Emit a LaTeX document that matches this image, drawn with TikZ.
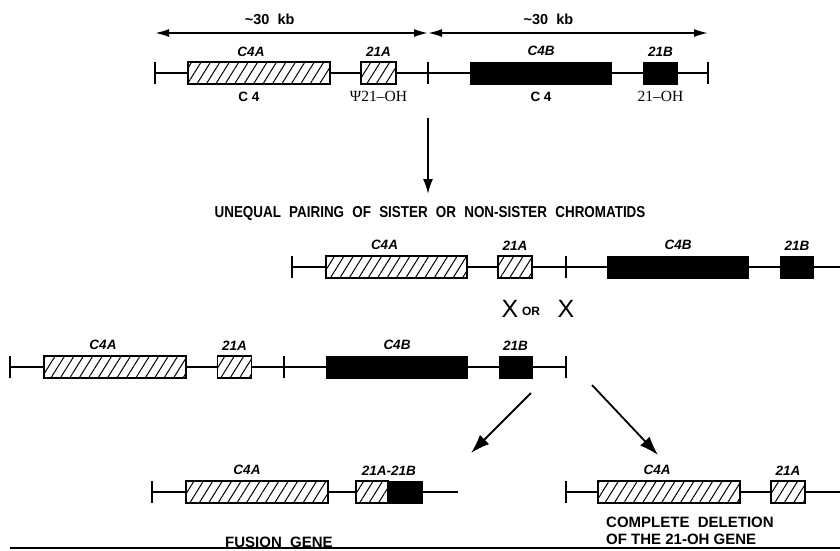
\documentclass[tikz,border=0pt]{standalone}
\usepackage{fontspec}
\setmainfont{Liberation Serif}
\setsansfont{Liberation Sans}
\newfontfamily\titlefont[FakeStretch=0.85,WordSpace=2.2]{Liberation Sans}
\usetikzlibrary{arrows.meta,patterns.meta,positioning}
\newcommand{\kb}{\textasciitilde30\ \ kb}

\begin{document}
\begin{tikzpicture}[x=1pt,y={(0pt,-1pt)},
  chrom/.style={line width=1.4pt},
  hatchgene/.style={draw,line width=1.6pt,inner sep=0pt,minimum height=22pt,
    preaction={fill=white},pattern={Lines[angle=58,distance=8pt,line width=1pt]}},
  solidgene/.style={fill=black,inner sep=0pt,minimum height=23pt},
  genename/.style={font=\sffamily\bfseries\itshape\fontsize{13.5}{13.5}\selectfont,inner sep=0pt},
  protname/.style={font=\sffamily\bfseries\fontsize{13.5}{13.5}\selectfont,inner sep=0pt},
  serifname/.style={font=\fontsize{15.5}{15.5}\selectfont,inner sep=0pt},
  captext/.style={font=\sffamily\bfseries\fontsize{15}{17}\selectfont,inner sep=0pt},
  kbarrow/.style={line width=1.8pt,{Latex[length=14pt,width=8pt]}-{Latex[length=14pt,width=8pt]}},
  arrowline/.style={line width=1.8pt,-{Latex[length=15pt,width=10pt]}}]
  \useasboundingbox (0,0) rectangle (840,550);

  % ~30 kb scale
  \coordinate (k0) at (155,33);
  \coordinate (km) at (428,33);
  \coordinate (k1) at (708,33);
  \draw[kbarrow] (k0) -- node[pos=0.42,above=7pt,captext,font=\sffamily\bfseries\fontsize{14.5}{14.5}\selectfont] {\kb} (km);
  \draw[kbarrow] (km) -- node[pos=0.43,above=7pt,captext,font=\sffamily\bfseries\fontsize{14.5}{14.5}\selectfont] {\kb} (k1);

  % top chromosome
  \coordinate (a0) at (155,73);
  \coordinate (am) at (428,73);
  \coordinate (a1) at (708,73);
  \draw[chrom] (a0) -- (a1);
  \foreach \c in {a0,am,a1} \draw[chrom] ([yshift=-11pt]\c) -- ([yshift=11pt]\c);
  \node[hatchgene,minimum width=142pt] (aC4A) at (259,73) {};
  \node[hatchgene,minimum width=35pt] (a21A) at (378.5,73) {};
  \node[solidgene,minimum width=142pt] (aC4B) at (541,73) {};
  \node[solidgene,minimum width=35pt] (a21B) at (660.5,73) {};
  \node[genename,above=5pt of aC4A,xshift=-8pt] {C4A};
  \node[genename,above=5pt of a21A] {21A};
  \node[genename,above=5pt of aC4B] {C4B};
  \node[genename,above=5pt of a21B] {21B};
  \node[protname,below=7pt of aC4A,xshift=-10pt] {C 4};
  \node[serifname,below=6pt of a21A] {Ψ21–OH};
  \node[protname,below=7pt of aC4B] {C 4};
  \node[serifname,below=6pt of a21B] {21–OH};

  \coordinate (v0) at (428,118);
  \coordinate (v1) at (428,194);
  \draw[arrowline] (v0) -- (v1);

  \node[captext,font=\titlefont\bfseries\fontsize{15.8}{15.8}\selectfont] (pairing) at (430,214)
    {UNEQUAL PAIRING OF SISTER OR NON-SISTER CHROMATIDS};

  % shifted chromosome
  \coordinate (b0) at (292,267);
  \coordinate (bm) at (566,267);
  \coordinate (b1) at (840,267);
  \draw[chrom] (b0) -- (b1);
  \foreach \c in {b0,bm} \draw[chrom] ([yshift=-11pt]\c) -- ([yshift=11pt]\c);
  \node[hatchgene,minimum width=141pt] (bC4A) at (396.5,267) {};
  \node[hatchgene,minimum width=34pt] (b21A) at (515,267) {};
  \node[solidgene,minimum width=142pt] (bC4B) at (678,267) {};
  \node[solidgene,minimum width=34pt] (b21B) at (797,267) {};
  \node[genename,above=5pt of bC4A,xshift=-12pt] {C4A};
  \node[genename,above=5pt of b21A] {21A};
  \node[genename,above=5pt of bC4B] {C4B};
  \node[genename,above=5pt of b21B] {21B};

  % crossover
  \node[font=\sffamily\fontsize{25}{25}\selectfont,inner sep=0pt] (x1) at (510,309) {X};
  \node[font=\sffamily\bfseries\fontsize{12}{12}\selectfont,inner sep=0pt] (or) at (531,311) {OR};
  \node[font=\sffamily\fontsize{25}{25}\selectfont,inner sep=0pt] (x2) at (566,309) {X};

  % lower chromosome
  \coordinate (c0) at (10,367);
  \coordinate (cm) at (284,367);
  \coordinate (c1) at (566,367);
  \draw[chrom] (c0) -- (c1);
  \foreach \c in {c0,cm,c1} \draw[chrom] ([yshift=-11pt]\c) -- ([yshift=11pt]\c);
  \node[hatchgene,minimum width=142pt] (cC4A) at (115,367) {};
  \node[hatchgene,minimum width=34pt] (c21A) at (234.5,367) {};
  \node[solidgene,minimum width=142pt] (cC4B) at (397,367) {};
  \node[solidgene,minimum width=34pt] (c21B) at (515.5,367) {};
  \node[genename,above=5pt of cC4A,xshift=-12pt] {C4A};
  \node[genename,above=5pt of c21A] {21A};
  \node[genename,above=5pt of cC4B] {C4B};
  \node[genename,above=5pt of c21B] {21B};

  \coordinate (f0) at (531,393);
  \coordinate (f1) at (471,453);
  \coordinate (d0) at (592,385);
  \coordinate (d1) at (658,455);
  \draw[arrowline,-{Latex[length=19pt,width=13pt]}] (f0) -- (f1);
  \draw[arrowline,-{Latex[length=19pt,width=13pt]}] (d0) -- (d1);

  % fusion gene
  \coordinate (e0) at (152,492);
  \coordinate (e1) at (458,492);
  \draw[chrom] (e0) -- (e1);
  \draw[chrom] ([yshift=-11pt]e0) -- ([yshift=11pt]e0);
  \node[hatchgene,minimum width=142pt] (eC4A) at (257,492) {};
  \node[solidgene,minimum width=34pt] (e21B) at (406,492) {};
  \node[hatchgene,minimum width=32pt,anchor=east] (e21A) at (e21B.west) {};
  \node[genename,above=5pt of eC4A,xshift=-10pt] {C4A};
  \node[genename,above=5pt of e21A.north east] {21A-21B};
  \node[captext,anchor=west] (fusion) at (225,542) {FUSION\ \ GENE};

  % deletion
  \coordinate (g0) at (566,492);
  \coordinate (g1) at (840,492);
  \draw[chrom] (g0) -- (g1);
  \draw[chrom] ([yshift=-11pt]g0) -- ([yshift=11pt]g0);
  \node[hatchgene,minimum width=142pt] (gC4A) at (669,492) {};
  \node[hatchgene,minimum width=34pt] (g21A) at (788,492) {};
  \node[genename,above=5pt of gC4A,xshift=-12pt] {C4A};
  \node[genename,above=5pt of g21A] {21A};
  \node[captext,anchor=west,align=left] (deletion) at (606,531)
    {COMPLETE\ \ DELETION\\OF THE 21-OH GENE};

  \coordinate (h0) at (10,548);
  \coordinate (h1) at (840,548);
  \draw[line width=1.5pt] (h0) -- (h1);
\end{tikzpicture}
\end{document}
